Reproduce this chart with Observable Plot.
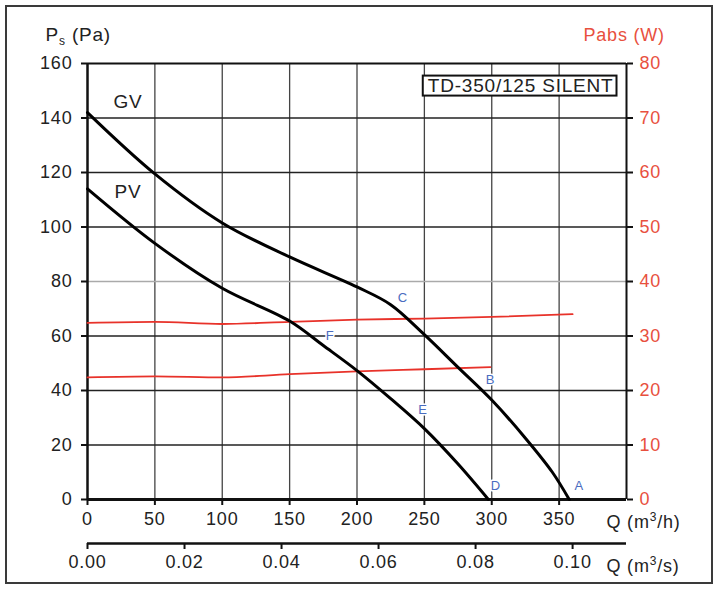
<!DOCTYPE html>
<html><head><meta charset="utf-8">
<script src="https://cdn.jsdelivr.net/npm/d3@7"></script>
<script src="https://cdn.jsdelivr.net/npm/@observablehq/plot@0.6"></script>
<style>
body{margin:0;background:#fff;}
#wrap{position:relative;width:718px;height:590px;}
#border{position:absolute;left:5px;top:5px;width:704px;height:575px;border:2px solid #3a3a3a;}
#wrap svg{position:absolute;left:0;top:0;}
</style></head><body><div id="wrap"><div id="border"></div></div>
<script>
// ---- data ----
const qGV  = [0, 50, 100, 150, 200, 225, 250, 275, 300, 325, 345, 357.5];
const psGV = [142, 119.5, 101.5, 89, 78, 71.5, 60.5, 48.5, 36.5, 22.5, 10, 0];
const qPV  = [0, 50, 100, 150, 175, 200, 225, 250, 275, 297.5];
const psPV = [114, 94, 77.5, 65.5, 56.5, 47.3, 37, 26, 13, 0];
const qPabsGV = [0, 50, 100, 150, 200, 250, 300, 360];
const wPabsGV = [32.4, 32.6, 32.2, 32.6, 33, 33.2, 33.5, 34];
const qPabsPV = [0, 50, 100, 150, 200, 250, 299];
const wPabsPV = [22.4, 22.6, 22.4, 23, 23.5, 23.9, 24.3];
const pointLabels = ["A", "B", "C", "D", "E", "F"];
const pointLabelQ = [365, 299, 234, 303, 249, 180];
const pointLabelPs = [5, 44, 74, 5, 33, 60];
const curveNames = ["GV", "PV"];
const curveNameQ = [30, 30];
const curveNamePs = [146, 113];
const psTicks = [0, 20, 40, 60, 80, 100, 120, 140, 160];
const wTicks = [0, 10, 20, 30, 40, 50, 60, 70, 80];
const qTicks = [0, 50, 100, 150, 200, 250, 300, 350];
const qsTicks = [0, 0.02, 0.04, 0.06, 0.08, 0.10];
const modelName = "TD-350/125 SILENT";

// ---- tables ----
const gv = qGV.map((q, i) => ({q, ps: psGV[i]}));
const pv = qPV.map((q, i) => ({q, ps: psPV[i]}));
const pabsGV = qPabsGV.map((q, i) => ({q, w: wPabsGV[i]}));
const pabsPV = qPabsPV.map((q, i) => ({q, w: wPabsPV[i]}));
const pts = pointLabels.map((t, i) => ({t, q: pointLabelQ[i], ps: pointLabelPs[i]}));
const names = curveNames.map((t, i) => ({t, q: curveNameQ[i], ps: curveNamePs[i]}));
const W2PA = 2; // 80 W on right axis aligns with 160 Pa on left axis

const RED = "#e8322a", RED_TXT = "#e8503e", INK = "#222", BLUE = "#4a6cc0";

const chart = Plot.plot({
  width: 718, height: 590,
  marginLeft: 87, marginRight: 92, marginTop: 63, marginBottom: 91,
  style: {fontFamily: "'Liberation Sans', Arial, sans-serif", fontSize: "18px", letterSpacing: "0.8px", color: INK, background: "transparent"},
  x: {domain: [0, 400]},
  y: {domain: [0, 160]},
  marks: [
    Plot.gridX(qTicks.filter(d => d > 0), {stroke: "#444", strokeOpacity: 1, strokeWidth: 1.3}),
    Plot.gridY(psTicks.filter(d => d > 0 && d < 160 && d !== 80), {stroke: "#222", strokeOpacity: 1, strokeWidth: 1.3}),
    Plot.gridY([80], {stroke: "#aaa", strokeOpacity: 1, strokeWidth: 1.3}),
    Plot.ruleY([160], {stroke: "#111", strokeWidth: 2}),
    Plot.ruleX([400], {stroke: "#111", strokeWidth: 2}),
    Plot.ruleX([0], {stroke: "#111", strokeWidth: 2.5}),
    Plot.ruleY([0], {stroke: "#111", strokeWidth: 3}),
    Plot.axisY(psTicks, {anchor: "left", tickSize: 6, tickPadding: 9, strokeWidth: 2, stroke: "#111", fill: INK, label: null}),
    Plot.axisY(wTicks.map(w => w * W2PA), {anchor: "right", tickSize: 6, tickPadding: 7, strokeWidth: 2, stroke: "#111", fill: RED_TXT, tickFormat: d => d / W2PA, label: null}),
    Plot.axisX(qTicks, {anchor: "bottom", tickSize: 6, tickPadding: 7, strokeWidth: 2, stroke: "#111", fill: INK, label: null}),
    Plot.ruleY([0], {stroke: "#111", strokeWidth: 2.5, dy: 44}),
    Plot.axisX(qsTicks.map(s => s * 3600), {anchor: "bottom", tickSize: 6, tickPadding: 6, strokeWidth: 2, stroke: "#111", fill: INK, dy: 44, tickFormat: d => (d / 3600).toFixed(2), label: null}),
    Plot.line(pabsGV, {x: "q", y: d => d.w * W2PA, stroke: RED, strokeWidth: 1.8, curve: "monotone-x"}),
    Plot.line(pabsPV, {x: "q", y: d => d.w * W2PA, stroke: RED, strokeWidth: 1.8, curve: "monotone-x"}),
    Plot.line(gv, {x: "q", y: "ps", stroke: "#000", strokeWidth: 3, curve: "catmull-rom"}),
    Plot.line(pv, {x: "q", y: "ps", stroke: "#000", strokeWidth: 3, curve: "catmull-rom"}),
    Plot.text(pts, {x: "q", y: "ps", text: "t", fill: BLUE, fontSize: 13, stroke: "white", strokeWidth: 3, paintOrder: "stroke"}),
    Plot.text(names, {x: "q", y: "ps", text: "t", fill: INK, fontSize: 19, letterSpacing: 0}),
    Plot.text([modelName], {frameAnchor: "top-right", textAnchor: "end", lineAnchor: "middle", dx: -13, dy: 22, fill: INK, fontSize: 19, className: "model"}),
    Plot.text(["Ps (Pa)"], {frameAnchor: "top-left", textAnchor: "start", lineAnchor: "middle", dx: -42, dy: -29, fill: INK, fontSize: 19, className: "lab-ps"}),
    Plot.text(["Pabs (W)"], {frameAnchor: "top-right", textAnchor: "start", lineAnchor: "middle", dx: -43, dy: -28, fill: RED_TXT, fontSize: 18, className: "lab-pabs"}),
    Plot.text(["Q (m3/h)"], {frameAnchor: "bottom-right", textAnchor: "start", lineAnchor: "middle", dx: -20, dy: 23, fill: INK, fontSize: 18, className: "lab-qh"}),
    Plot.text(["Q (m3/s)"], {frameAnchor: "bottom-right", textAnchor: "start", lineAnchor: "middle", dx: -20, dy: 67, fill: INK, fontSize: 18, className: "lab-qs"})
  ]
});
document.getElementById("wrap").appendChild(chart);

const svg = d3.select(chart);
// box around model name
const mt = svg.select(".model text");
if (!mt.empty()) {
  const b = mt.node().getBBox();
  const tr = mt.attr("transform");
  const g = d3.select(mt.node().parentNode);
  g.insert("rect", "text").attr("transform", tr)
    .attr("x", b.x - 5).attr("y", b.y + 1).attr("width", b.width + 8).attr("height", b.height - 1)
    .attr("fill", "white").attr("stroke", "#111").attr("stroke-width", 2);
}
// sub/superscripts
function rich(cls, parts) {
  const t = svg.select(cls + " text");
  if (t.empty()) return;
  t.text(null);
  parts.forEach(([s, kind]) => {
    const ts = t.append("tspan").text(s);
    if (kind === "sub") ts.attr("font-size", 12).attr("dy", 4);
    else if (kind === "sup") ts.attr("font-size", 12).attr("dy", -7);
    else if (kind === "back-sub") ts.attr("dy", -4);
    else if (kind === "back-sup") ts.attr("dy", 7);
  });
}
rich(".lab-ps", [["P"], ["s", "sub"], [" (Pa)", "back-sub"]]);
rich(".lab-qh", [["Q (m"], ["3", "sup"], ["/h)", "back-sup"]]);
rich(".lab-qs", [["Q (m"], ["3", "sup"], ["/s)", "back-sup"]]);
</script>
</body></html>
